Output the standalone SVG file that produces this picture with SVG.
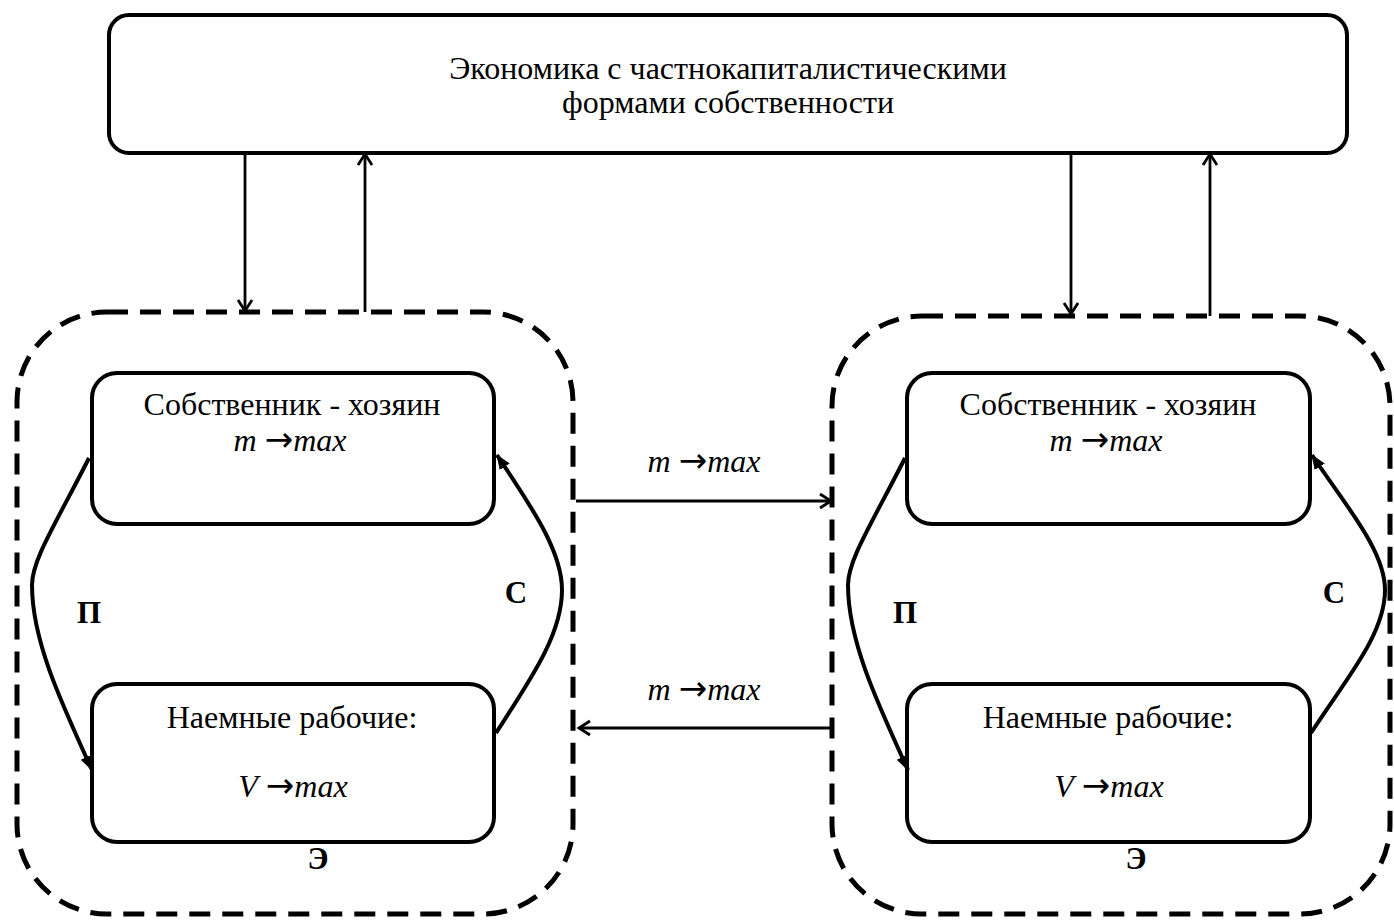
<svg xmlns="http://www.w3.org/2000/svg" width="1394" height="924" viewBox="0 0 1394 924">
  <defs>
    <style>
      .box { fill: #fff; stroke: #000; stroke-width: 4; }
      .zone { fill: none; stroke: #000; stroke-width: 5; stroke-dasharray: 21 12; }
      .thin { fill: none; stroke: #000; stroke-width: 2.8; }
      .curve { fill: none; stroke: #000; stroke-width: 4; }
      text { font-family: 'Liberation Serif', 'DejaVu Serif', serif; fill: #000; text-anchor: middle; }
      .t { font-size: 32px; }
      .i { font-style: italic; }
      .arr { font-family: 'DejaVu Sans', sans-serif; font-style: normal; font-size: 34px; }
      .b { font-size: 31px; font-weight: bold; }
    </style>
    <marker id="open" markerWidth="18" markerHeight="18" refX="14" refY="9" orient="auto" markerUnits="userSpaceOnUse">
      <path d="M3,2 L14,9 L3,16" fill="none" stroke="#000" stroke-width="2.8"/>
    </marker>
    <marker id="solid" markerWidth="18" markerHeight="14" refX="14" refY="7" orient="auto" markerUnits="userSpaceOnUse">
      <path d="M0,1 L15,7 L0,13 Z" fill="#000"/>
    </marker>
  </defs>

  <!-- top level: economy -->
  <g id="economy">
    <rect class="box" x="109" y="15" width="1238" height="138" rx="20"/>
    <text class="t" x="728" y="79">Экономика с частнокапиталистическими</text>
    <text class="t" x="728" y="113">формами собственности</text>
  </g>

  <!-- left enterprise -->
  <g id="enterprise-left">
    <rect class="zone" x="17" y="312" width="556" height="602" rx="90"/>
    <text class="b" x="318" y="869">Э</text>
  </g>
  <g id="owner-left">
    <rect class="box" x="92" y="373" width="402" height="151" rx="25"/>
    <text class="t" x="292" y="415">Собственник - хозяин</text>
    <text class="t" x="290" y="451"><tspan class="i">m</tspan> <tspan class="arr">→</tspan><tspan class="i">max</tspan></text>
  </g>
  <g id="workers-left">
    <rect class="box" x="92" y="684" width="402" height="158" rx="25"/>
    <text class="t" x="292" y="728">Наемные рабочие:</text>
    <text class="t" x="293" y="797"><tspan class="i">V</tspan> <tspan class="arr">→</tspan><tspan class="i">max</tspan></text>
  </g>

  <!-- right enterprise -->
  <g id="enterprise-right">
    <rect class="zone" x="832" y="316" width="558" height="598" rx="90"/>
    <text class="b" x="1136" y="869">Э</text>
  </g>
  <g id="owner-right">
    <rect class="box" x="907" y="373" width="403" height="151" rx="25"/>
    <text class="t" x="1108" y="415">Собственник - хозяин</text>
    <text class="t" x="1106" y="451"><tspan class="i">m</tspan> <tspan class="arr">→</tspan><tspan class="i">max</tspan></text>
  </g>
  <g id="workers-right">
    <rect class="box" x="907" y="684" width="403" height="158" rx="25"/>
    <text class="t" x="1108" y="728">Наемные рабочие:</text>
    <text class="t" x="1109" y="797"><tspan class="i">V</tspan> <tspan class="arr">→</tspan><tspan class="i">max</tspan></text>
  </g>

  <!-- connectors -->
  <g id="connectors">
    <!-- economy <-> enterprises -->
    <line class="thin" x1="245" y1="153" x2="245" y2="311" marker-end="url(#open)"/>
    <line class="thin" x1="365" y1="312" x2="365" y2="154" marker-end="url(#open)"/>
    <line class="thin" x1="1071" y1="153" x2="1071" y2="314" marker-end="url(#open)"/>
    <line class="thin" x1="1210" y1="316" x2="1210" y2="154" marker-end="url(#open)"/>

    <!-- exchange between enterprises -->
    <line class="thin" x1="576" y1="501" x2="831" y2="501" marker-end="url(#open)"/>
    <text class="t" x="704" y="472"><tspan class="i">m</tspan> <tspan class="arr">→</tspan><tspan class="i">max</tspan></text>
    <line class="thin" x1="832" y1="728" x2="579" y2="728" marker-end="url(#open)"/>
    <text class="t" x="704" y="700"><tspan class="i">m</tspan> <tspan class="arr">→</tspan><tspan class="i">max</tspan></text>

    <!-- left internal cycle -->
    <path class="curve" d="M89,458 C55,525 32,560 32,585 C32,640 60,700 92,770" marker-end="url(#solid)"/>
    <text class="b" x="89" y="623">П</text>
    <path class="curve" d="M496,733 C530,680 562,635 562,590 C562,550 530,505 497,455" marker-end="url(#solid)"/>
    <text class="b" x="516" y="603">С</text>

    <!-- right internal cycle -->
    <path class="curve" d="M905,458 C871,525 848,560 848,585 C848,640 876,700 908,770" marker-end="url(#solid)"/>
    <text class="b" x="905" y="623">П</text>
    <path class="curve" d="M1311,733 C1345,680 1385,635 1385,590 C1385,550 1345,505 1312,455" marker-end="url(#solid)"/>
    <text class="b" x="1334" y="603">С</text>
  </g>
</svg>
